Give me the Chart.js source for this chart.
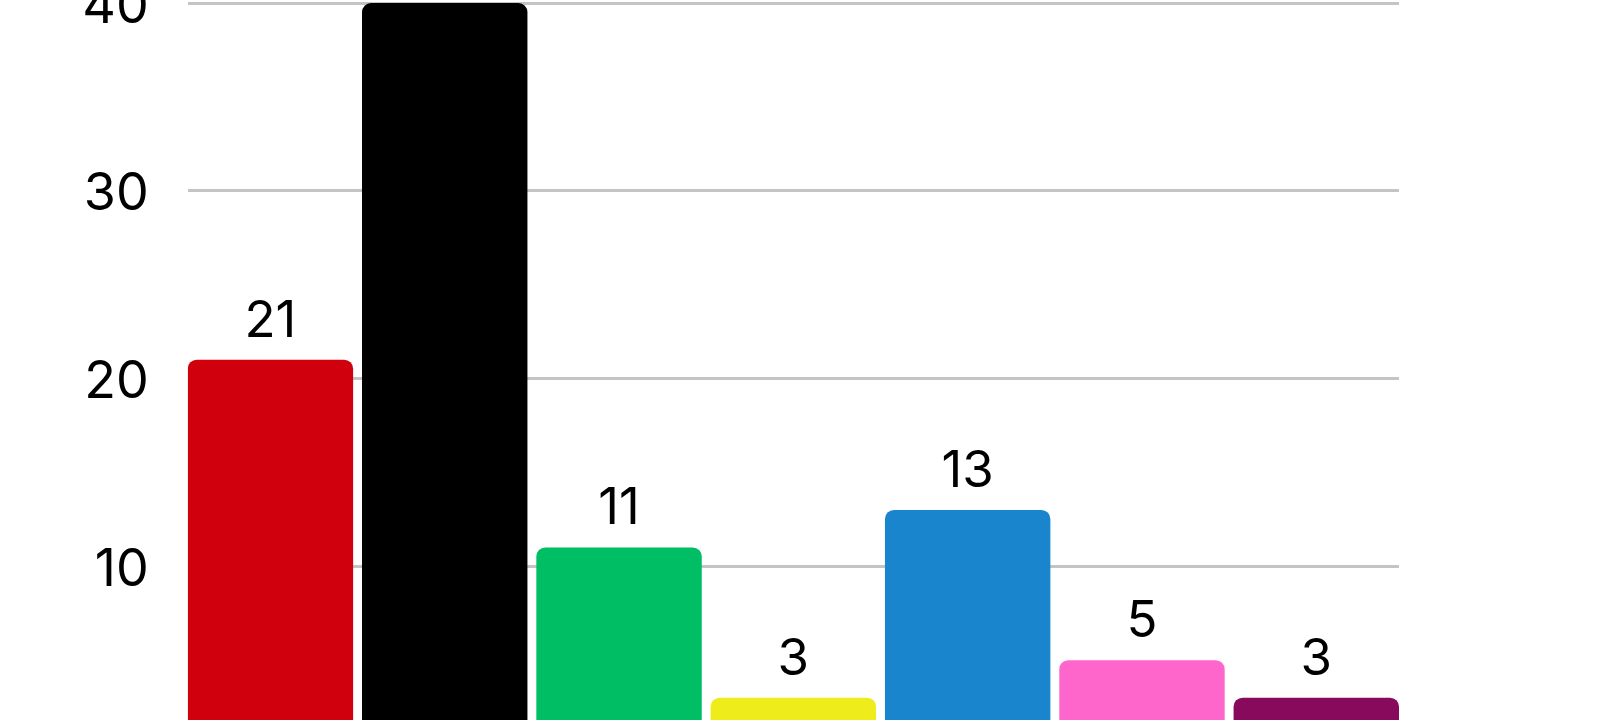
<!DOCTYPE html>
<html>
<head>
<meta charset="utf-8">
<script src="https://cdn.jsdelivr.net/npm/chart.js@4.4.1/dist/chart.umd.min.js"></script>
<style>
  html, body { margin: 0; padding: 0; background: #ffffff; overflow: hidden; width: 1600px; height: 720px; }
  #wrap { position: absolute; left: 0; top: -77px; width: 1600px; height: 911px; }
</style>
</head>
<body>
<div id="wrap"><canvas id="c"></canvas></div>
<script>
// Data
const categories = ['SPD', 'CDU', 'Grüne', 'FDP', 'AfD', 'Linke', 'BSW'];
const values = [21, 40, 11, 3, 13, 5, 3];
const barColors = ['#d0000d', '#000000', '#00be64', '#efec1b', '#1885cc', '#ff66cc', '#870a5c'];
const yTicks = [0, 10, 20, 30, 40];

const FONT = 'Inter, Lato, sans-serif';
const BAR_FRACTION = 0.949;

const valueLabels = {
  id: 'valueLabels',
  afterDatasetsDraw(chart) {
    const ctx = chart.ctx;
    const meta = chart.getDatasetMeta(0);
    ctx.save();
    ctx.fillStyle = '#000000';
    ctx.font = '400 51px ' + FONT;
    ctx.textAlign = 'center';
    ctx.textBaseline = 'alphabetic';
    meta.data.forEach((bar, i) => {
      ctx.fillText(String(values[i]), bar.x, bar.y - 23);
    });
    ctx.restore();
  }
};

new Chart(document.getElementById('c'), {
  type: 'bar',
  data: {
    labels: categories,
    datasets: [{
      data: values.map((v, i) => ({ x: i, y: v })),
      backgroundColor: barColors,
      borderWidth: 0,
      borderRadius: { topLeft: 9, topRight: 9, bottomLeft: 0, bottomRight: 0 },
      borderSkipped: false,
      barPercentage: BAR_FRACTION,
      categoryPercentage: 1.0
    }]
  },
  options: {
    responsive: true,
    maintainAspectRatio: false,
    animation: false,
    devicePixelRatio: 1,
    layout: { padding: { top: 80, right: 201, bottom: 80, left: 0 } },
    plugins: { legend: { display: false }, tooltip: { enabled: false } },
    scales: {
      x: {
        type: 'linear',
        display: false,
        offset: false,
        grid: { offset: false },
        min: -BAR_FRACTION / 2,
        max: categories.length - 1 + BAR_FRACTION / 2,
        afterBuildTicks(scale) { scale.ticks = categories.map((_, i) => ({ value: i })); }
      },
      y: {
        min: 0,
        max: 40,
        afterBuildTicks(scale) { scale.ticks = yTicks.map(v => ({ value: v })); },
        afterFit(scale) { scale.width = 187.7; },
        border: { display: false },
        grid: { color: '#c4c4c4', lineWidth: 3, drawTicks: false },
        ticks: {
          padding: 39,
          labelOffset: 4,
          color: '#000000',
          font: { family: FONT, size: 52, weight: '400' }
        }
      }
    }
  },
  plugins: [valueLabels]
});
</script>
</body>
</html>
